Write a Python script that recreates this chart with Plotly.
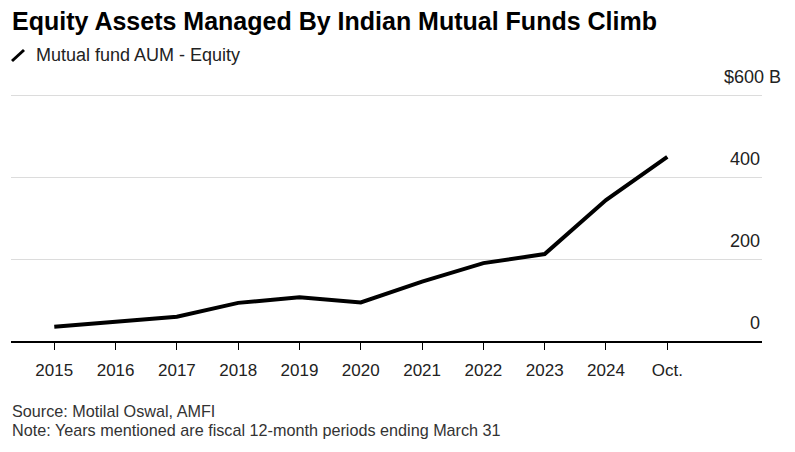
import plotly.graph_objects as go

categories = ["2015", "2016", "2017", "2018", "2019", "2020", "2021", "2022", "2023", "2024", "Oct."]
aum_equity = [35, 48, 59, 93, 107, 94, 145, 190, 212, 344, 449]
y_ticks = [0, 200, 400, 600]
y_tick_labels = ["0", "200", "400", "$600 B"]

W, H = 795, 452
L, R, T, B = 11, 762, 93, 341
Y_MAX = 605
FONT = "Liberation Sans, Arial, sans-serif"

def px(x):
    return (x - L) / (R - L)

def py(y):
    return (B - y) / (B - T)

fig = go.Figure()
fig.add_trace(go.Scatter(
    x=list(range(len(categories))), y=aum_equity, mode="lines",
    line=dict(color="#000000", width=4), hoverinfo="skip", showlegend=False,
))

fig.update_xaxes(
    range=[-0.706, 11.545], tickmode="array", tickvals=list(range(len(categories))),
    ticktext=categories, showgrid=False, zeroline=False, showline=True,
    linecolor="#000000", linewidth=1.5, ticks="outside", ticklen=7, tickwidth=1.2,
    tickcolor="#000000", tickfont=dict(family=FONT, size=17, color="#222222"),
    ticklabelstandoff=6,
)
fig.update_yaxes(
    range=[0, Y_MAX], tickmode="array", tickvals=y_ticks, showticklabels=False,
    showgrid=True, gridcolor="#dcdcdc", gridwidth=1, zeroline=False,
)

anns = []
for v, t in zip(y_ticks, y_tick_labels):
    xr = px(783) if v == 600 else 1
    anns.append(dict(x=xr, y=v, xref="paper", yref="y", text=t, showarrow=False,
                     xanchor="right", yanchor="middle", yshift=18,
                     font=dict(family=FONT, size=18, color="#222222")))

anns.append(dict(x=px(10), y=py(21), xref="paper", yref="paper",
                 text="<b>Equity Assets Managed By Indian Mutual Funds Climb</b>",
                 showarrow=False, xanchor="left", yanchor="middle",
                 font=dict(family=FONT, size=25, color="#000000")))
anns.append(dict(x=px(34), y=py(55), xref="paper", yref="paper",
                 text="Mutual fund AUM - Equity", showarrow=False,
                 xanchor="left", yanchor="middle",
                 font=dict(family=FONT, size=18, color="#222222")))
anns.append(dict(x=px(10), y=py(411), xref="paper", yref="paper",
                 text="Source: Motilal Oswal, AMFI", showarrow=False,
                 xanchor="left", yanchor="middle",
                 font=dict(family=FONT, size=16.2, color="#333333")))
anns.append(dict(x=px(10), y=py(430), xref="paper", yref="paper",
                 text="Note: Years mentioned are fiscal 12-month periods ending March 31",
                 showarrow=False, xanchor="left", yanchor="middle",
                 font=dict(family=FONT, size=16.2, color="#333333")))

fig.update_layout(
    width=W, height=H, margin=dict(l=L, r=W - R, t=T, b=H - B),
    paper_bgcolor="#ffffff", plot_bgcolor="#ffffff", annotations=anns,
    shapes=[dict(type="line", xref="paper", yref="paper",
                 x0=px(12), y0=py(61), x1=px(24), y1=py(50),
                 line=dict(color="#000000", width=3))],
)

fig.write_html("out.html", config={"displayModeBar": False},
               post_script="document.body.style.margin='0';document.body.style.overflow='hidden';")
